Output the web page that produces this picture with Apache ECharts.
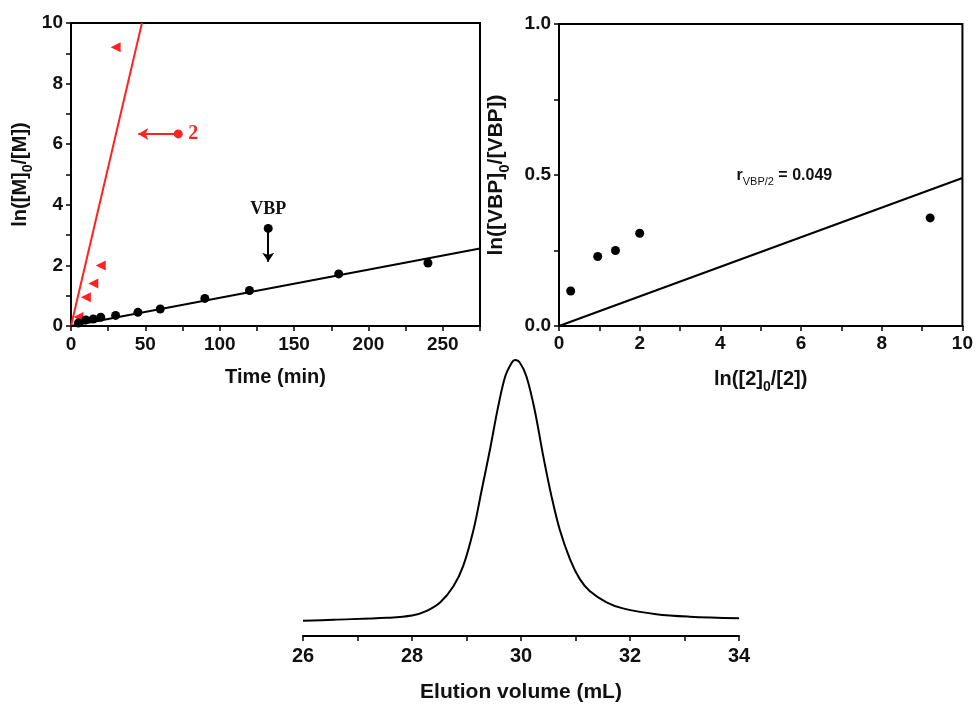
<!DOCTYPE html>
<html><head><meta charset="utf-8">
<script src="https://cdn.jsdelivr.net/npm/echarts/dist/echarts.min.js"></script>
<style>html,body{margin:0;padding:0;background:#fff}#c{width:976px;height:704px}</style>
</head><body><div id="c"></div>
<script>
// ---- Data: kinetics (top-left)
const timeVBP = [5, 10, 15, 20, 30, 45, 60, 90, 120, 180, 240];
const lnVBP = [0.10, 0.20, 0.23, 0.29, 0.35, 0.45, 0.56, 0.91, 1.17, 1.72, 2.08];
const time2 = [5, 10, 15, 20, 30];
const ln2 = [0.30, 0.95, 1.40, 2.00, 9.20];
const fitVBPx = [0, 275];
const fitVBPy = [0, 2.56];
const fit2x = [0, 47.7];
const fit2y = [0, 10];
const arrowVBP = [[132.6, 3.22], [132.6, 2.12]];
const arrow2 = [[72.1, 6.34], [45.2, 6.34]];
// ---- Data: copolymerization ratio (top-right)
const lnRatio2 = [0.29, 0.96, 1.40, 2.00, 9.20];
const lnRatioVBP = [0.116, 0.23, 0.25, 0.307, 0.358];
const fitRatioX = [0, 10];
const fitRatioY = [0, 0.49];
const rLabelAt = [4.40, 0.493];
// ---- Data: GPC trace (bottom)
const elutionVol = [26, 26.56, 27.54, 28.0, 28.27, 28.52, 28.76, 28.94, 29.13, 29.28, 29.43, 29.58, 29.71, 29.83, 29.89, 29.98, 30.10, 30.25, 30.41, 30.56, 30.71, 30.90, 31.08, 31.26, 31.57, 31.87, 32.48, 33.09, 34];
const signal = [0.055, 0.059, 0.066, 0.074, 0.091, 0.122, 0.18, 0.254, 0.386, 0.53, 0.675, 0.83, 0.94, 0.99, 1.0, 0.99, 0.94, 0.82, 0.65, 0.506, 0.386, 0.278, 0.206, 0.163, 0.122, 0.10, 0.079, 0.07, 0.064];

const zip = (a, b) => a.map((v, i) => [v, b[i]]);
const FONT = 'Liberation Sans, Arial, sans-serif';
const SERIF = 'Liberation Serif, Times New Roman, serif';
const TXT = '#111';
const RED = '#ff2222';

function labelEvery(step, digits) {
  return v => {
    const r = v / step;
    return Math.abs(r - Math.round(r)) < 1e-6 ? (digits ? v.toFixed(digits) : String(Math.round(v))) : '';
  };
}
function axisBase(extra) {
  return Object.assign({
    type: 'value',
    axisLine: {show: true, onZero: false, lineStyle: {color: '#000', width: 2}},
    axisTick: {show: true, inside: false, length: 5, lineStyle: {color: '#000', width: 1.5}},
    splitLine: {show: false},
    nameTextStyle: {fontFamily: FONT, fontSize: 20, fontWeight: 'bold', color: TXT}
  }, extra);
}
function tickLabels(step, digits, margin, size) {
  return {fontFamily: FONT, fontSize: size || 19, fontWeight: 'bold', color: TXT, margin: margin, formatter: labelEvery(step, digits)};
}
function richName(size) {
  return {
    fontFamily: FONT, fontSize: size, fontWeight: 'bold', color: TXT,
    rich: {
      n: {fontFamily: FONT, fontSize: size, fontWeight: 'bold', color: TXT, padding: [0, 0, 5, 0], verticalAlign: 'bottom'},
      s: {fontFamily: FONT, fontSize: Math.round(size * 0.7), fontWeight: 'bold', color: TXT, verticalAlign: 'bottom'}
    }
  };
}

const option = {
  animation: false,
  backgroundColor: '#fff',
  grid: [
    {left: 71, top: 23, width: 409, height: 303, show: true, borderColor: '#000', borderWidth: 2},
    {left: 559, top: 24, width: 407, height: 302, show: true, borderColor: '#000', borderWidth: 2},
    {left: 303, top: 360, width: 436, height: 277}
  ],
  xAxis: [
    axisBase({gridIndex: 0, min: 0, max: 275, interval: 25,
      axisLabel: tickLabels(50, 0, 9),
      name: 'Time (min)', nameLocation: 'middle', nameGap: 41}),
    axisBase({gridIndex: 1, min: 0, max: 10, interval: 1,
      axisLabel: tickLabels(2, 0, 8),
      name: '{n|ln([2]}{s|0}{n|/[2])}', nameLocation: 'middle', nameGap: 43, nameTextStyle: richName(20)}),
    axisBase({gridIndex: 2, min: 26, max: 34, interval: 1,
      axisLabel: tickLabels(2, 0, 10, 20),
      name: 'Elution volume (mL)', nameLocation: 'middle', nameGap: 46,
      nameTextStyle: {fontFamily: FONT, fontSize: 21, fontWeight: 'bold', color: TXT}})
  ],
  yAxis: [
    axisBase({gridIndex: 0, min: 0, max: 10, interval: 1,
      axisLabel: tickLabels(2, 0, 8),
      name: '{n|ln([M]}{s|0}{n|/[M])}', nameLocation: 'middle', nameGap: 36, nameTextStyle: richName(20)}),
    axisBase({gridIndex: 1, min: 0, max: 1, interval: 0.25,
      axisLabel: tickLabels(0.5, 1, 8),
      name: '{n|ln([VBP]}{s|0}{n|/[VBP])}', nameLocation: 'middle', nameGap: 47, nameTextStyle: richName(21)}),
    {type: 'value', gridIndex: 2, min: 0, max: 1, show: false}
  ],
  series: [
    {type: 'line', xAxisIndex: 0, yAxisIndex: 0, data: zip(fit2x, fit2y), symbol: 'none',
      lineStyle: {color: RED, width: 2}, z: 2},
    {type: 'line', xAxisIndex: 0, yAxisIndex: 0, data: zip(fitVBPx, fitVBPy), symbol: 'none',
      lineStyle: {color: '#000', width: 2}, z: 2},
    {type: 'scatter', xAxisIndex: 0, yAxisIndex: 0, data: zip(time2, ln2),
      symbol: 'triangle', symbolRotate: 90, symbolSize: 10, itemStyle: {color: RED, opacity: 1}, z: 3,
      markLine: {silent: true, symbol: ['circle', 'arrow'], symbolSize: [9, 10], precision: 3,
        lineStyle: {color: RED, width: 2, type: 'solid'},
        label: {show: true, position: 'start', distance: 10, formatter: '2', fontFamily: SERIF, fontSize: 20, fontWeight: 'bold', color: RED},
        data: [[{coord: arrow2[0]}, {coord: arrow2[1]}]]}},
    {type: 'scatter', xAxisIndex: 0, yAxisIndex: 0, data: zip(timeVBP, lnVBP),
      symbol: 'circle', symbolSize: 9, itemStyle: {color: '#000', opacity: 1}, z: 3,
      markLine: {silent: true, symbol: ['circle', 'arrow'], symbolSize: [9, 9], precision: 3,
        lineStyle: {color: '#000', width: 2, type: 'solid'},
        label: {show: true, position: 'start', distance: 10, formatter: 'VBP', fontFamily: SERIF, fontSize: 18, fontWeight: 'bold', color: TXT},
        data: [[{coord: arrowVBP[0]}, {coord: arrowVBP[1]}]]}},
    {type: 'line', xAxisIndex: 1, yAxisIndex: 1, data: zip(fitRatioX, fitRatioY), symbol: 'none',
      lineStyle: {color: '#000', width: 2}, z: 2,
      markPoint: {silent: true, symbol: 'circle', symbolSize: 0,
        label: {show: true, position: 'right', distance: 0,
          formatter: '{r|r}{s|VBP/2}{r| = 0.049}',
          rich: {
            r: {fontFamily: FONT, fontSize: 16, fontWeight: 'bold', color: TXT, padding: [0, 0, 4, 0], verticalAlign: 'bottom'},
            s: {fontFamily: FONT, fontSize: 11, color: TXT, verticalAlign: 'bottom'}
          }},
        data: [{coord: rLabelAt}]}},
    {type: 'scatter', xAxisIndex: 1, yAxisIndex: 1, data: zip(lnRatio2, lnRatioVBP),
      symbol: 'circle', symbolSize: 9, itemStyle: {color: '#000', opacity: 1}, z: 3},
    {type: 'line', xAxisIndex: 2, yAxisIndex: 2, data: zip(elutionVol, signal), symbol: 'none',
      smooth: 0.35, lineStyle: {color: '#000', width: 2}}
  ]
};
const chart = echarts.init(document.getElementById('c'), null, {renderer: 'canvas'});
chart.setOption(option);
</script>
</body></html>
